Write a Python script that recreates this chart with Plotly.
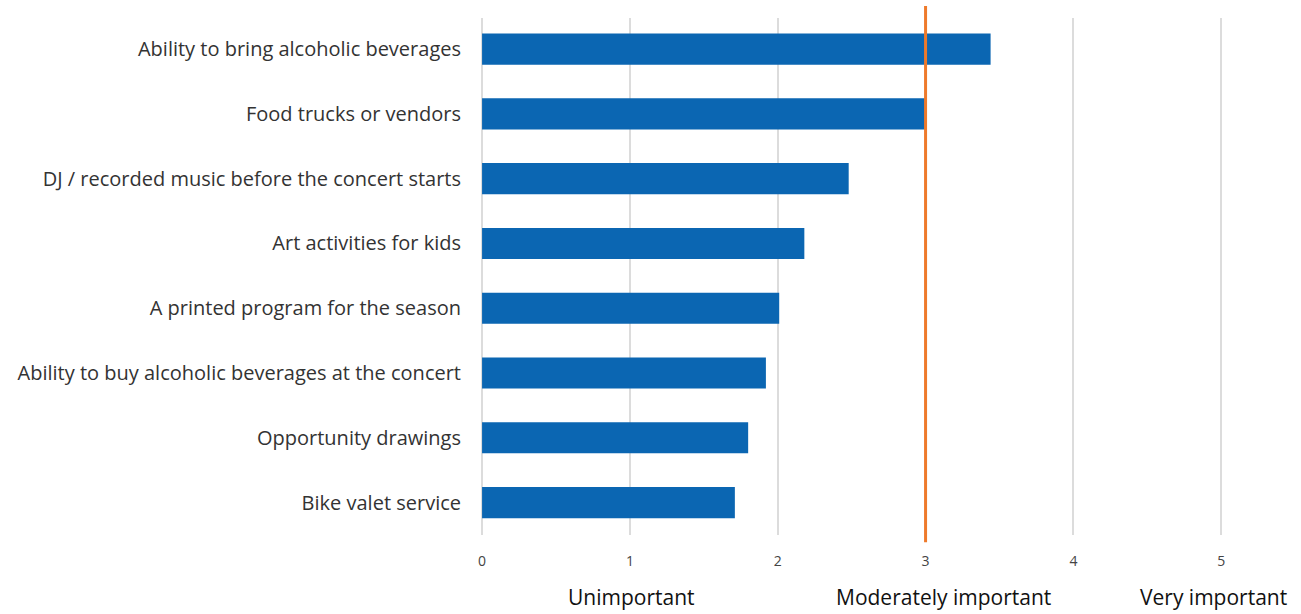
import plotly.graph_objects as go

categories = [
    "Ability to bring alcoholic beverages",
    "Food trucks or vendors",
    "DJ / recorded music before the concert starts",
    "Art activities for kids",
    "A printed program for the season",
    "Ability to buy alcoholic beverages at the concert",
    "Opportunity drawings",
    "Bike valet service",
]
values = [3.44, 3.0, 2.48, 2.18, 2.01, 1.92, 1.80, 1.71]
x_ticks = [0, 1, 2, 3, 4, 5]
scale_labels = ["Unimportant", "Moderately important", "Very important"]
scale_positions = [1.01, 3.12, 4.95]
reference_value = 3

font_family = "Open Sans, Lato, sans-serif"

fig = go.Figure()
fig.add_trace(go.Bar(
    x=values,
    y=categories,
    orientation="h",
    marker=dict(color="#0B66B2", line=dict(width=0)),
    width=0.48,
))

fig.add_shape(
    type="line", xref="x", yref="paper",
    x0=reference_value, x1=reference_value, y0=-0.014, y1=1.023,
    line=dict(color="#EE7A2B", width=3),
    layer="above",
)

for lab, pos in zip(scale_labels, scale_positions):
    fig.add_annotation(
        x=pos, y=-0.12, xref="x", yref="paper",
        text=lab, showarrow=False,
        font=dict(size=21, color="#111", family=font_family),
        xanchor="center", yanchor="middle",
    )

fig.update_layout(
    width=1301, height=614,
    margin=dict(l=480, r=65, t=18, b=79),
    paper_bgcolor="white", plot_bgcolor="white",
    showlegend=False,
    font=dict(family=font_family),
    xaxis=dict(
        range=[-0.014, 5.1],
        tickvals=x_ticks,
        showgrid=True, gridcolor="#DCDCDC", gridwidth=1.5,
        zeroline=True, zerolinecolor="#DCDCDC", zerolinewidth=1.5,
        showline=False,
        tickfont=dict(size=14, color="#444"),
        ticks="", ticklabelstandoff=16,
        automargin=False,
        fixedrange=True,
    ),
    yaxis=dict(
        categoryorder="array", categoryarray=categories,
        autorange=False, range=[7.5, -0.48],
        showgrid=False, zeroline=False, showline=False,
        tickfont=dict(size=20, color="#333"),
        ticks="", ticklabelstandoff=18,
        automargin=False,
    ),
)

fig.write_html(
    "out.html",
    config={"displayModeBar": False},
    post_script="document.body.style.margin='0';document.body.style.overflow='hidden';",
)
